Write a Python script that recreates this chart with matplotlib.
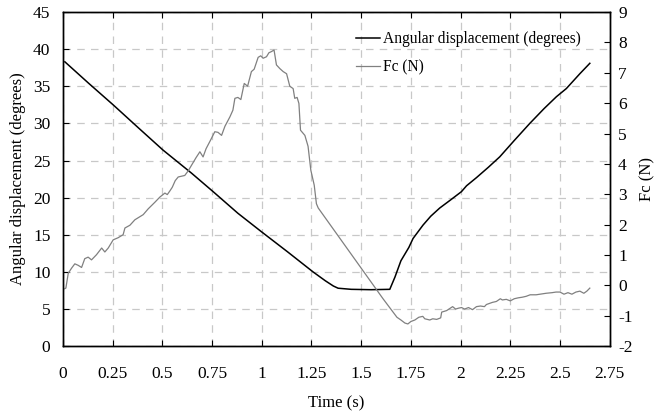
import matplotlib
matplotlib.use("Agg")
import matplotlib.pyplot as plt

plt.rcParams['font.family'] = ['Liberation Serif', 'DejaVu Serif']
plt.rcParams['font.size'] = 12
plt.rcParams['axes.unicode_minus'] = False

# Angular displacement (degrees), left axis
angle_t = [0.01, 0.13, 0.253, 0.38, 0.504, 0.647, 0.756, 0.88, 0.999, 1.13,
           1.258, 1.32, 1.36, 1.384, 1.45, 1.55, 1.644, 1.67, 1.70, 1.74,
           1.761, 1.811, 1.85, 1.895, 1.95, 2.004, 2.03, 2.08, 2.14, 2.197,
           2.27, 2.348, 2.42, 2.482, 2.532, 2.6, 2.65]
angle_deg = [38.3, 35.4, 32.5, 29.4, 26.4, 23.3, 20.8, 17.9, 15.4, 12.7,
             10.0, 8.8, 8.1, 7.8, 7.65, 7.6, 7.65, 9.3, 11.5, 13.3,
             14.5, 16.3, 17.5, 18.6, 19.7, 20.8, 21.6, 22.7, 24.1, 25.5,
             27.7, 30.0, 32.0, 33.6, 34.7, 36.7, 38.1]

# Fc (N), right axis
fc_t = [0.005, 0.015, 0.027, 0.044, 0.06, 0.077, 0.094, 0.11, 0.127, 0.144,
        0.169, 0.195, 0.211, 0.228, 0.253, 0.278, 0.303, 0.312, 0.337, 0.362,
        0.379, 0.404, 0.429, 0.463, 0.488, 0.513, 0.525, 0.538, 0.55, 0.565,
        0.58, 0.6, 0.613, 0.63, 0.65, 0.67, 0.689, 0.705, 0.72, 0.74, 0.764,
        0.78, 0.798, 0.815, 0.84, 0.855, 0.865, 0.88, 0.895, 0.912, 0.929,
        0.948, 0.962, 0.982, 0.995, 1.007, 1.024, 1.036, 1.049, 1.062, 1.074,
        1.091, 1.108, 1.125, 1.141, 1.158, 1.166, 1.178, 1.187, 1.195, 1.217,
        1.233, 1.247, 1.264, 1.275, 1.284, 1.61, 1.68, 1.7, 1.72, 1.735,
        1.75, 1.77, 1.79, 1.81, 1.82, 1.845, 1.86, 1.88, 1.9, 1.905, 1.93,
        1.96, 1.975, 1.99, 2.005, 2.02, 2.04, 2.06, 2.08, 2.1, 2.12, 2.13,
        2.16, 2.18, 2.2, 2.21, 2.23, 2.25, 2.27, 2.29, 2.31, 2.33, 2.35,
        2.38, 2.4, 2.43, 2.46, 2.48, 2.5, 2.52, 2.54, 2.56, 2.58, 2.6, 2.62,
        2.635, 2.65]
fc_n = [-0.12, -0.09, 0.40, 0.57, 0.71, 0.66, 0.59, 0.88, 0.93, 0.84,
        1.01, 1.23, 1.10, 1.23, 1.50, 1.57, 1.67, 1.89, 1.98, 2.16,
        2.23, 2.33, 2.52, 2.74, 2.91, 3.04, 2.99, 3.11, 3.23, 3.45,
        3.57, 3.60, 3.62, 3.77, 3.99, 4.21, 4.40, 4.23, 4.50, 4.75, 5.06,
        5.04, 4.94, 5.24, 5.55, 5.77, 6.16, 6.19, 6.12, 6.65, 6.56,
        7.04, 7.12, 7.51, 7.56, 7.48, 7.53, 7.66, 7.70, 7.75, 7.26,
        7.14, 7.04, 6.97, 6.56, 6.48, 6.16, 6.19, 5.99, 5.11, 4.94,
        4.58, 3.79, 3.30, 2.69, 2.55, -0.44, -1.05, -1.14, -1.24, -1.27,
        -1.19, -1.14, -1.05, -1.02, -1.10, -1.14, -1.10, -1.12, -1.07, -0.88,
        -0.83, -0.70, -0.78, -0.75, -0.73, -0.78, -0.73, -0.80, -0.70, -0.68,
        -0.70, -0.63, -0.56, -0.53, -0.44, -0.48, -0.46, -0.51, -0.44, -0.41,
        -0.39, -0.36, -0.31, -0.31, -0.29, -0.26, -0.24, -0.22, -0.22, -0.29,
        -0.24, -0.29, -0.22, -0.19, -0.26, -0.19, -0.09]

x_ticks = [0, 0.25, 0.5, 0.75, 1, 1.25, 1.5, 1.75, 2, 2.25, 2.5, 2.75]
x_labels = ['0', '0.25', '0.5', '0.75', '1', '1.25', '1.5', '1.75', '2',
            '2.25', '2.5', '2.75']

fig = plt.figure(figsize=(6.62, 4.17), dpi=100)
ax = fig.add_axes([0.095, 0.170, 0.826, 0.801])
ax2 = ax.twinx()

l1, = ax.plot(angle_t, angle_deg, color='black', lw=1.1,
              label='Angular displacement (degrees)', zorder=3)
l2, = ax2.plot(fc_t, fc_n, color='#808080', lw=0.9, label='Fc (N)')

ax.set_xlim(0, 2.75)
ax.set_ylim(0, 45)
ax2.set_ylim(-2, 9)
ax.set_xticks(x_ticks)
ax.set_xticklabels(x_labels)
ax.set_yticks(range(0, 46, 5))
ax2.set_yticks(range(-2, 10))

ax.grid(True, color='#c8c8c8', linestyle=(0, (6, 5)), linewidth=0.9)
ax.set_axisbelow(True)

ax.tick_params(axis='x', direction='in', top=True, length=4, pad=14,
               labelsize=12.5)
ax.tick_params(axis='y', direction='in', length=4, pad=9, labelsize=12.5)
ax2.tick_params(axis='y', direction='in', length=4, pad=6, labelsize=12.5)
for a in (ax, ax2):
    for s in a.spines.values():
        s.set_linewidth(1.0)

ax.set_xlabel('Time (s)', labelpad=10)
ax.set_ylabel('Angular displacement (degrees)', labelpad=5)
ax2.set_ylabel('Fc (N)', labelpad=5)

ax2.legend([l1, l2], [l1.get_label(), l2.get_label()], loc='upper right',
           bbox_to_anchor=(0.972, 0.985), frameon=False, handlelength=1.5,
           handletextpad=0.2, labelspacing=0.8, fontsize=11.2)

fig.savefig('out.png', dpi=100)
